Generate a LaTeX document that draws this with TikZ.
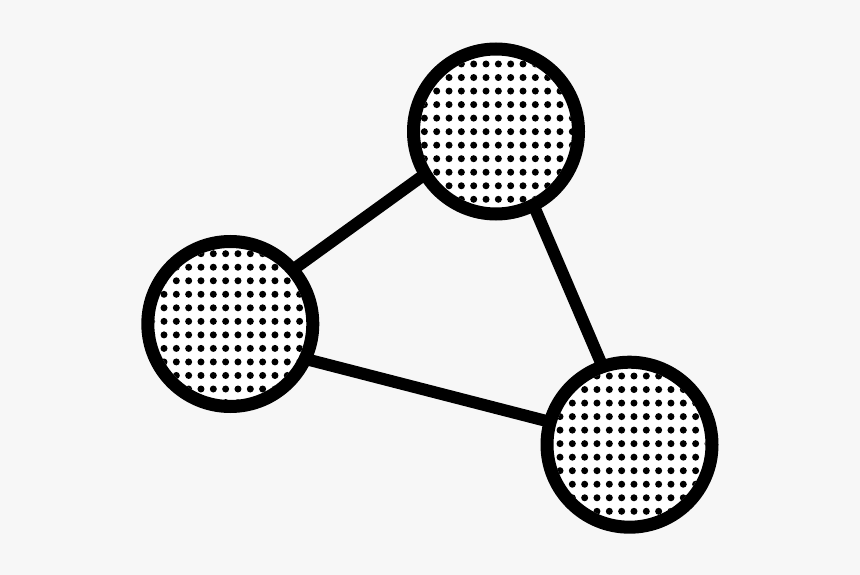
\documentclass[tikz,border=0pt]{standalone}
\pgfdeclarelayer{bg}
\pgfsetlayers{bg,main}
\definecolor{bgc}{HTML}{F7F7F7}
\tikzset{
  ring/.style={circle, draw=black, fill=white, line width=13pt, minimum size=165pt, inner sep=0pt, outer sep=0pt},
  link/.style={line width=12pt, draw=black}
}
\newcommand{\mydotgrid}[4]{%
  \begin{scope}
    \clip (#1,#2) circle (76);
    \foreach \i in {-2,...,15}{
      \foreach \j in {-2,...,14}{
        \fill ({#3+\i*12.33},{#4+\j*13.53}) circle (3.5);
      }
    }
  \end{scope}}
\begin{document}
\begin{tikzpicture}[x=1pt,y=-1pt]
\begin{pgfonlayer}{bg}
\fill[bgc] (0,0) rectangle (860,575);
\end{pgfonlayer}
\useasboundingbox (0,0) rectangle (860,575);
\node[ring] (T) at (496,131.5) {};
\node[ring] (L) at (230.3,324) {};
\node[ring] (R) at (629.5,444.7) {};
\mydotgrid{496}{131.5}{436.7}{64}
\mydotgrid{230.3}{324}{164}{253.7}
\mydotgrid{629.5}{444.7}{560}{376}
\begin{pgfonlayer}{bg}
\draw[link] (L.41.6) -- (T.211.6);
\draw[link] (L.-25.8) -- (R.164.8);
\draw[link] (T.-63.1) -- (R.109.9);
\end{pgfonlayer}
\end{tikzpicture}
\end{document}
